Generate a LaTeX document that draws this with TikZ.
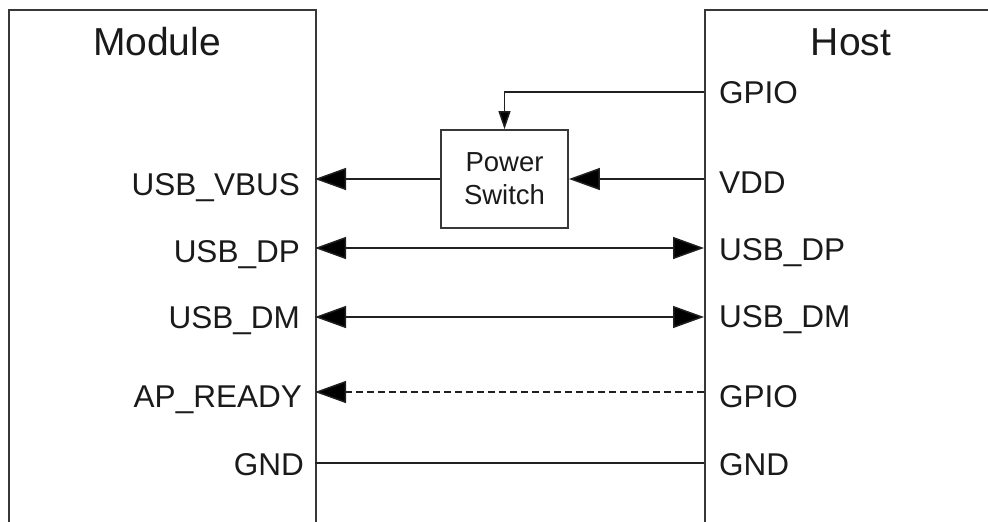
\documentclass[tikz,border=0pt]{standalone}
\usepackage{fontspec}
\setmainfont{Liberation Sans}
\usetikzlibrary{arrows.meta}
\definecolor{ink}{HTML}{1A1A1A}
\definecolor{wire}{HTML}{202020}
\definecolor{frame}{HTML}{383838}
\begin{document}
\begin{tikzpicture}[x=1pt,y=-1pt,
  block/.style={draw=frame, line width=1.8pt, inner sep=0pt},
  title/.style={text=ink, inner sep=0pt, font=\fontsize{39}{45}\selectfont},
  pinl/.style={text=ink, inner sep=0pt, font=\fontsize{31.5}{37}\selectfont},
  wirel/.style={draw=wire, line width=1.5pt},
  bigtip/.style={-{Triangle[length=31pt,width=22pt,fill=black]}},
  bothtips/.style={{Triangle[length=31pt,width=22pt,fill=black]}-{Triangle[length=31pt,width=22pt,fill=black]}},
  smalltip/.style={-{Triangle[length=18pt,width=12pt,fill=black]}},
  dashline/.style={dash pattern=on 7pt off 4pt}]
  \clip (0,0) rectangle (988,522);
  \fill[white] (0,0) rectangle (988,522);

  % the two device outlines (they run past the lower and right edges)
  \node[block, anchor=north west, minimum width=307pt, minimum height=600pt] (mod) at (8,9) {};
  \node[block, anchor=north west, minimum width=400pt, minimum height=600pt] (host) at (704,9) {};
  \node[title, anchor=base] (modtitle) at (157,55) {Module};
  \node[title, anchor=base] (hosttitle) at (851,55) {Host};

  % power switch between host VDD and module USB_VBUS
  \node[block, minimum width=127pt, minimum height=98pt, align=center, text=ink,
        font=\fontsize{27.5}{33}\selectfont] (psw) at (504.5,179) {Power\\Switch};

  % pin names, module side
  \node[pinl, anchor=base east] (mvbusl) at (300,195) {USB\_VBUS};
  \node[pinl, anchor=base east] (mdpl)   at (300,262) {USB\_DP};
  \node[pinl, anchor=base east] (mdml)   at (300,328) {USB\_DM};
  \node[pinl, anchor=base east] (mrdyl)  at (302,407) {AP\_READY};
  \node[pinl, anchor=base east] (mgndl)  at (304,475) {GND};

  % pin names, host side
  \node[pinl, anchor=base west] (hgpioal) at (719,103) {GPIO};
  \node[pinl, anchor=base west] (hvddl)   at (719,193) {VDD};
  \node[pinl, anchor=base west] (hdpl)    at (719,260) {USB\_DP};
  \node[pinl, anchor=base west] (hdml)    at (719,327) {USB\_DM};
  \node[pinl, anchor=base west] (hgpiobl) at (719,407) {GPIO};
  \node[pinl, anchor=base west] (hgndl)   at (719,475) {GND};

  % pin points on the outlines
  \coordinate (m-vbus) at (315,179);
  \coordinate (m-dp)   at (315,248);
  \coordinate (m-dm)   at (315,317);
  \coordinate (m-rdy)  at (315,392);
  \coordinate (m-gnd)  at (315,463);
  \coordinate (h-gpioa) at (704,92);
  \coordinate (h-vdd)   at (704,179);
  \coordinate (h-dp)    at (704,248);
  \coordinate (h-dm)    at (704,317);
  \coordinate (h-gpiob) at (704,392);
  \coordinate (h-gnd)   at (704,463);

  % signals
  \draw[wirel, smalltip] (h-gpioa) -| (psw.north);
  \draw[wirel, bigtip] (h-vdd) -- (psw.east);
  \draw[wirel, bigtip] (psw.west) -- (m-vbus);
  \draw[wirel, bothtips] (m-dp) -- (h-dp);
  \draw[wirel, bothtips] (m-dm) -- (h-dm);
  \draw[wirel, bigtip, dashline] (h-gpiob) -- (m-rdy);
  \draw[wirel] (m-gnd) -- (h-gnd);
\end{tikzpicture}
\end{document}
